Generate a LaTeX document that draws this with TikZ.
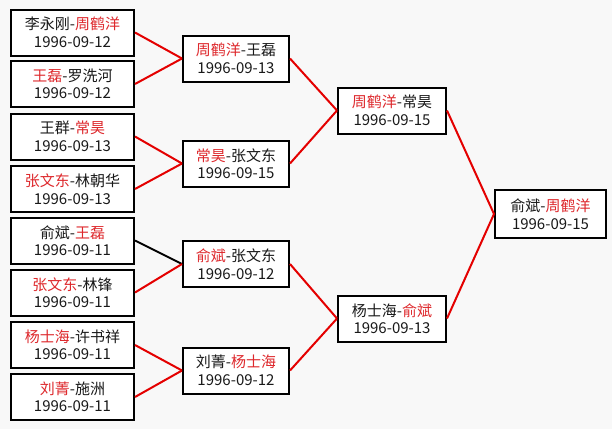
\documentclass[tikz,border=0pt]{standalone}
\usepackage{fontspec}
\setmainfont{Noto Sans CJK SC}
\definecolor{wred}{RGB}{222,40,44}
\definecolor{lred}{RGB}{228,0,0}
\definecolor{bg}{RGB}{248,248,248}
\newcommand\wnr[1]{\textcolor{wred}{#1}}
\tikzset{
  gamebox/.style={draw=black, line width=2pt, fill=white, minimum height=46pt,
    inner sep=0pt, align=center, font=\fontsize{15}{17.5}\selectfont, text=black!90},
  leafbox/.style={gamebox, minimum width=123pt},
  rtwobox/.style={gamebox, minimum width=106pt},
  rthreebox/.style={gamebox, minimum width=108pt},
  finalbox/.style={gamebox, minimum width=111pt, minimum height=48pt},
  winline/.style={draw=lred, line width=2pt},
  loseline/.style={draw=black, line width=2pt}
}
\begin{document}
\begin{tikzpicture}[x=1pt,y=-1pt]
\fill[bg] (0,0) rectangle (612,429);
\useasboundingbox (0,0) rectangle (612,429);
% leaves
\node[leafbox] (l1) at (72.5,32.5) {李永刚-\wnr{周鹤洋}\\1996-09-12};
\node[leafbox] (l2) at (72.5,84) {\wnr{王磊}-罗洗河\\1996-09-12};
\node[leafbox] (l3) at (72.5,136.5) {王群-\wnr{常昊}\\1996-09-13};
\node[leafbox] (l4) at (72.5,189) {\wnr{张文东}-林朝华\\1996-09-13};
\node[leafbox] (l5) at (72.5,240.5) {俞斌-\wnr{王磊}\\1996-09-11};
\node[leafbox] (l6) at (72.5,292.5) {\wnr{张文东}-林锋\\1996-09-11};
\node[leafbox] (l7) at (72.5,345) {\wnr{杨士海}-许书祥\\1996-09-11};
\node[leafbox] (l8) at (72.5,397) {\wnr{刘菁}-施洲\\1996-09-11};
% round 2
\node[rtwobox] (r1) at (236,58.5) {\wnr{周鹤洋}-王磊\\1996-09-13};
\node[rtwobox] (r2) at (236,163.5) {\wnr{常昊}-张文东\\1996-09-15};
\node[rtwobox] (r3) at (236,264) {\wnr{俞斌}-张文东\\1996-09-12};
\node[rtwobox] (r4) at (236,370.5) {刘菁-\wnr{杨士海}\\1996-09-12};
% round 3
\node[rthreebox] (s1) at (392,110.5) {\wnr{周鹤洋}-常昊\\1996-09-15};
\node[rthreebox] (s2) at (392,318.5) {杨士海-\wnr{俞斌}\\1996-09-13};
% final
\node[finalbox] (f) at (550.5,214) {俞斌-\wnr{周鹤洋}\\1996-09-15};
% connectors
\draw[winline] (l1.east) -- (r1.west);
\draw[winline] (l2.east) -- (r1.west);
\draw[winline] (l3.east) -- (r2.west);
\draw[winline] (l4.east) -- (r2.west);
\draw[loseline] (l5.east) -- (r3.west);
\draw[winline] (l6.east) -- (r3.west);
\draw[winline] (l7.east) -- (r4.west);
\draw[winline] (l8.east) -- (r4.west);
\draw[winline] (r1.east) -- (s1.west);
\draw[winline] (r2.east) -- (s1.west);
\draw[winline] (r3.east) -- (s2.west);
\draw[winline] (r4.east) -- (s2.west);
\draw[winline] (s1.east) -- (f.west);
\draw[winline] (s2.east) -- (f.west);
\end{tikzpicture}
\end{document}
